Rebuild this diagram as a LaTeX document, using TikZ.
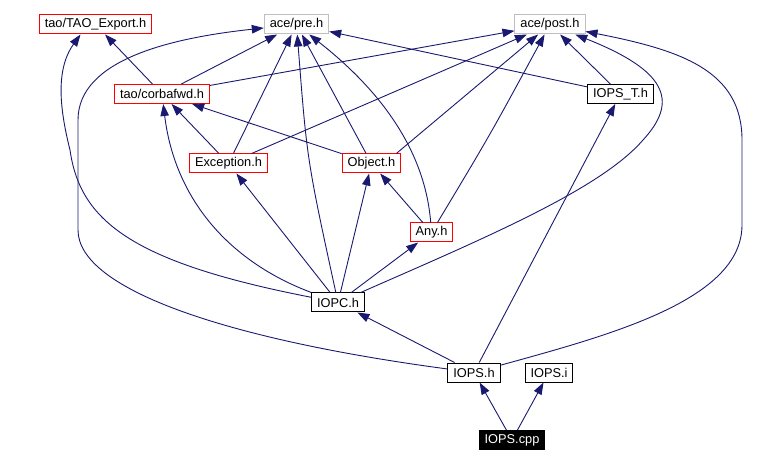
\documentclass[tikz,border=0pt]{standalone}
\usepackage{fontspec}
\setmainfont{Liberation Sans}
\usetikzlibrary{arrows.meta}
\definecolor{edgeblue}{RGB}{25,25,112}
\definecolor{sysgray}{RGB}{191,191,191}
\begin{document}
\begin{tikzpicture}[x=1pt,y=-1pt,
  file/.style={draw=black,line width=1pt,minimum height=19pt,inner xsep=5.5pt,inner ysep=0pt,font=\fontsize{12.8}{14}\selectfont},
  redfile/.style={file,draw=red},
  sysfile/.style={file,draw=sysgray},
  mainfile/.style={file,fill=black,text=white},
  inc/.style={draw=edgeblue,line width=0.9pt,-{Triangle[length=12pt,width=8.5pt]}}]
\useasboundingbox (0,0) rectangle (769,465);

% files
\node[redfile] (taoexp) at (95.5,24.5) {tao/TAO\_Export.h};
\node[sysfile] (pre) at (296.5,24.5) {ace/pre.h};
\node[sysfile] (post) at (550,24.5) {ace/post.h};
\node[redfile] (corbafwd) at (162,94) {tao/corbafwd.h};
\node[file] (iopst) at (620.5,94) {IOPS\_T.h};
\node[redfile] (exception) at (228.5,163.5) {Exception.h};
\node[redfile] (object) at (371.5,163.5) {Object.h};
\node[redfile] (any) at (431.5,232.5) {Any.h};
\node[file] (iopc) at (338,302.5) {IOPC.h};
\node[file] (iopsh) at (474,372.5) {IOPS.h};
\node[file] (iopsi) at (549,372.5) {IOPS.i};
\node[mainfile] (cpp) at (512,440) {IOPS.cpp};

% includes
\draw[inc] (cpp) -- (iopsh);
\draw[inc] (cpp) -- (iopsi);
\draw[inc] (iopsh) -- (iopc);
\draw[inc] (iopsh) -- (iopst);
\draw[inc] (iopsh) .. controls (230,340) and (78,290) .. (78,230) -- (78,120)
  .. controls (78,60) and (170,38) .. (pre);
\draw[inc] (iopsh) .. controls (610,335) and (742,300) .. (742,225) -- (742,140)
  .. controls (742,70) and (680,50) .. (post);

\draw[inc] (iopc) .. controls (130,262) and (80,220) .. (70,150)
  .. controls (60,110) and (55,70) .. ([xshift=-15pt]taoexp.south);
\draw[inc] (iopc) .. controls (230,262) and (175,200) .. (corbafwd);
\draw[inc] (iopc) -- (exception);
\draw[inc] (iopc) .. controls (307,160) .. (pre);
\draw[inc] (iopc) -- (object);
\draw[inc] (iopc) -- (any);
\draw[inc] (iopc) .. controls (480,240) and (600,190) .. (643,140)
  .. controls (680,100) and (665,70) .. (post);

\draw[inc] (any) -- (object);
\draw[inc] (any) .. controls (425,150) and (380,90) .. (pre);
\draw[inc] (any) .. controls (490,135) .. (post);

\draw[inc] (object) -- (corbafwd);
\draw[inc] (object) -- (pre);
\draw[inc] ([xshift=-5pt]object.north east) -- (post);

\draw[inc] (exception) -- (corbafwd);
\draw[inc] (exception) -- (pre);
\draw[inc] (exception) -- (post);

\draw[inc] (iopst) -- (post);
\draw[inc] (iopst) -- (pre);

\draw[inc] (corbafwd) -- (taoexp);
\draw[inc] (corbafwd) -- (pre);
\draw[inc] (corbafwd) -- (post);

\end{tikzpicture}
\end{document}
